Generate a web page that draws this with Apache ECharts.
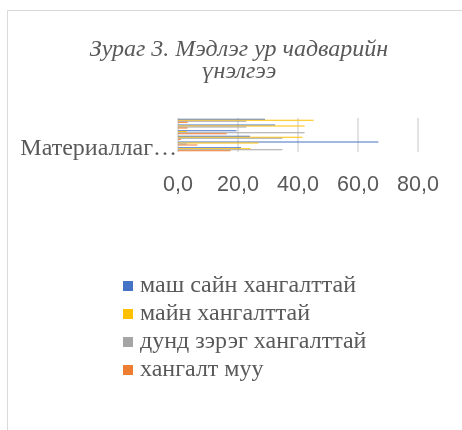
<!DOCTYPE html>
<html><head><meta charset="utf-8">
<script src="https://cdn.jsdelivr.net/npm/echarts@6/dist/echarts.min.js"></script>
<style>html,body{margin:0;padding:0;background:#fff}#c{width:462px;height:430px}</style>
</head><body><div id="c"></div>
<script>
// categories from bottom to top
var categories = ['Материаллаг бааз', 'Ангилал 2', 'Ангилал 3', 'Ангилал 4', 'Ангилал 5', 'Ангилал 6'];
var seriesNames = ['маш сайн хангалттай', 'майн хангалттай', 'дунд зэрэг хангалттай', 'хангалт муу'];
var vBlue   = [21.0, 66.8, 24.0, 19.5, 32.4, 29.0];
var vYellow = [24.2, 26.8, 41.5, 3.0, 42.2, 45.2];
var vGray   = [34.8, 3.0, 34.8, 42.2, 22.8, 22.8];
var vOrange = [17.5, 6.5, 1.0, 16.2, 3.2, 3.2];
var xTicks = [0, 20, 40, 60, 80];
var colors = ['#4472C4', '#FFC000', '#A5A5A5', '#ED7D31'];
var values = [vBlue, vYellow, vGray, vOrange];

var catFont = '24px "Liberation Serif"';
var mctx = document.createElement('canvas').getContext('2d');
function fitText(s, maxW) {
  mctx.font = catFont;
  if (mctx.measureText(s).width <= maxW) return s;
  var t = s;
  while (t.length > 1 && mctx.measureText(t.replace(/\s+$/, '') + '…').width > maxW) t = t.slice(0, -1);
  return t.replace(/\s+$/, '') + '…';
}

var chart = echarts.init(document.getElementById('c'), null, {renderer: 'canvas'});
var txt = '#595959';
chart.setOption({
  animation: false,
  title: {
    text: 'Зураг 3. Мэдлэг ур чадварийн\nүнэлгээ',
    left: 239, top: 38, textAlign: 'center', padding: 0,
    textStyle: {fontFamily: 'Liberation Serif', fontStyle: 'italic', fontWeight: 'normal', fontSize: 24, color: txt, lineHeight: 22.5}
  },
  graphic: [{type: 'rect', shape: {x: 7.5, y: 10.5, width: 470, height: 440}, style: {fill: 'none', stroke: '#d9d9d9', lineWidth: 1}, silent: true, z: -10}],
  legend: {
    orient: 'vertical', left: 123, top: 274, padding: 0, itemWidth: 10, itemHeight: 10, itemGap: 4,
    icon: 'rect',
    textStyle: {fontFamily: 'Liberation Serif', fontSize: 24, color: txt, padding: [0,0,0,2]},
    data: seriesNames
  },
  grid: {left: 178, right: 44, top: 118, height: 34, containLabel: false},
  xAxis: {
    type: 'value', min: xTicks[0], max: xTicks[xTicks.length - 1], interval: 20,
    axisLine: {show: false}, axisTick: {show: false},
    splitLine: {lineStyle: {color: '#d9d9d9', width: 1.5}},
    axisLabel: {margin: 22, fontFamily: 'Liberation Sans', fontSize: 21.5, color: txt,
      formatter: function (v) { return v.toFixed(1).replace('.', ','); }}
  },
  yAxis: {
    type: 'category', data: categories,
    axisLine: {show: false}, axisTick: {show: false},
    axisLabel: {
      interval: function (i) { return i === 0; },
      margin: 1,
      formatter: function (v) { return fitText(v, 166); },
      fontFamily: 'Liberation Serif', fontSize: 24, color: txt, padding: [3, 0, 0, 0]
    }
  },
  series: seriesNames.map(function (n, i) {
    return {name: n, type: 'bar', data: values[i], barGap: '0%', barCategoryGap: '60%',
      itemStyle: {color: colors[i]}};
  })
});
</script></body></html>
